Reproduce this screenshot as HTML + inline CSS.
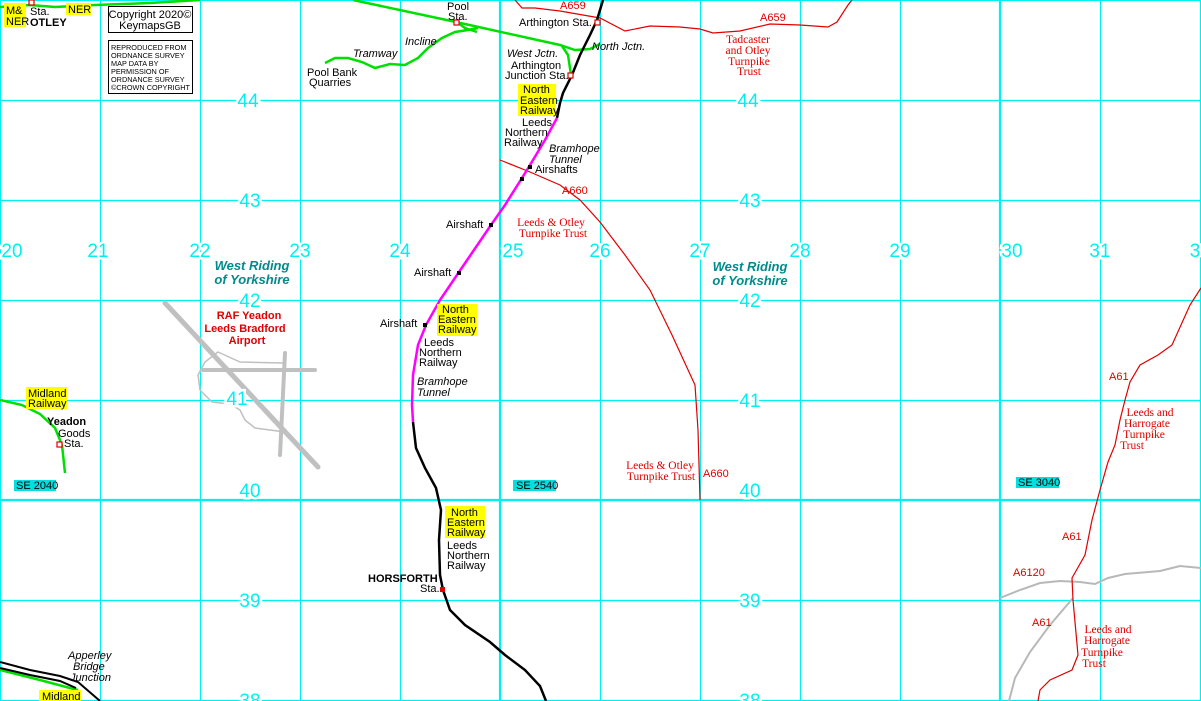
<!DOCTYPE html>
<html><head><meta charset="utf-8"><style>
html,body{margin:0;padding:0;background:#fff;width:1201px;height:701px;overflow:hidden}
svg{display:block}
.g{font-family:"Liberation Sans",sans-serif;fill:#00f0f0;font-size:19px;text-anchor:middle;stroke:#fff;stroke-width:5;paint-order:stroke}
.k{font-family:"Liberation Sans",sans-serif;font-size:11px;fill:#000}
.i{font-family:"Liberation Sans",sans-serif;font-size:11px;font-style:italic;fill:#000}
.r{font-family:"Liberation Sans",sans-serif;font-size:11px;fill:#e00000}
.s{font-family:"Liberation Serif",serif !important;font-size:11.5px;fill:#e00000;text-anchor:middle}
.t{font-family:"Liberation Sans",sans-serif;fill:#008b8b;font-size:13px;font-weight:bold;font-style:italic;text-anchor:middle}
.b{font-family:"Liberation Sans",sans-serif;}
</style></head><body>
<svg width="1201" height="701" viewBox="0 0 1201 701" xmlns="http://www.w3.org/2000/svg">
<g stroke="#00f0f0" stroke-width="1.2">
<line x1="100.5" y1="0" x2="100.5" y2="701"/><line x1="200.5" y1="0" x2="200.5" y2="701"/><line x1="300.5" y1="0" x2="300.5" y2="701"/><line x1="400.5" y1="0" x2="400.5" y2="701"/>
<line x1="600.5" y1="0" x2="600.5" y2="701"/><line x1="700.5" y1="0" x2="700.5" y2="701"/><line x1="800.5" y1="0" x2="800.5" y2="701"/><line x1="900.5" y1="0" x2="900.5" y2="701"/>
<line x1="1100.5" y1="0" x2="1100.5" y2="701"/><line x1="1200.5" y1="0" x2="1200.5" y2="701"/>
<line x1="0" y1="0.5" x2="1201" y2="0.5"/><line x1="0" y1="100.5" x2="1201" y2="100.5"/><line x1="0" y1="200.5" x2="1201" y2="200.5"/><line x1="0" y1="300.5" x2="1201" y2="300.5"/><line x1="0" y1="400.5" x2="1201" y2="400.5"/><line x1="0" y1="600.5" x2="1201" y2="600.5"/><line x1="0" y1="700.5" x2="1201" y2="700.5"/>
<line x1="0.5" y1="0" x2="0.5" y2="701"/>
</g>
<g stroke="#00f0f0" stroke-width="2.2">
<line x1="500" y1="0" x2="500" y2="701"/><line x1="1000" y1="0" x2="1000" y2="701"/><line x1="0" y1="500" x2="1201" y2="500"/>
</g>
<g stroke="#c0c0c0" fill="none" stroke-linecap="round">
<line x1="165" y1="303" x2="318" y2="467" stroke-width="5"/>
<line x1="203" y1="370" x2="315" y2="370" stroke-width="4"/>
<line x1="285" y1="353" x2="280" y2="455" stroke-width="4"/>
<path d="M218,352 L240,362 L283,363 M218,352 L205,362 L198,375 L200,390 L212,402 L230,404 L240,410 L245,420 L255,428 L285,432" stroke-width="1.5"/>
</g>
<g stroke="#b8b8b8" fill="none" stroke-width="2">
<path d="M1000,598 L1020,590 L1040,583 L1060,581 L1080,582 L1095,584 L1108,578 L1125,574 L1160,571 L1180,566 L1201,568"/>
<path d="M1073,598 L1050,625 L1030,652 L1015,678 L1009,701"/>
</g>
<g stroke="#e00000" fill="none" stroke-width="1.2">
<path d="M515,0 L522,8 L535,8 L560,11 L600,18 L625,31 L650,26 L680,27 L700,29 L713,33 L740,31 L770,24 L800,25 L828,27 L837,22 L848,5 L852,0"/>
<path d="M500,160 L530,172 L560,185 L580,200 L600,222 L625,255 L650,290 L672,335 L695,385 L698,430 L700,500"/>
<path d="M1201,288 L1190,305 L1172,345 L1158,355 L1140,365 L1130,382 L1125,400 L1120,420 L1115,445 L1108,462 L1100,490 L1092,520 L1085,555 L1072,578 L1073,600 L1078,655 L1072,670 L1050,680 L1040,690 L1038,701"/>
</g>
<g stroke="#00e000" fill="none" stroke-width="2.5">
<path d="M0,7 L30,5 L55,7 L95,5 L150,3 L200,0"/>
<path d="M353,0 L456,22 L560,45 L575,50 L590,49 L600,44"/>
<path d="M562,46 L568,55 L571,75"/>
<path d="M325,63 L335,58 L348,58 L362,62 L375,68 L390,64 L405,65 L418,58 L428,48 L442,38 L455,32 L468,30 L478,28 M458,23 L465,28 L477,32"/>
<path d="M0,400 L22,405 L40,414 L55,428 L62,445 L65,473"/>
<path d="M0,670 L40,680 L70,688 L78,690"/>
</g>
<g stroke="#000" fill="none" stroke-width="2.5">
<path d="M603,0 L597,20 L590,35 L580,55 L572,75 L563,93 L560,103 L557,118"/>
<path d="M413,422 L416,448 L425,468 L436,488 L441,510 L439,540 L440,575 L443,590 L450,610 L465,625 L490,642 L505,655 L525,670 L540,686 L546,701"/>
<path d="M0,662 L30,670 L60,676 L78,682 L100,701" stroke-width="2"/>
<path d="M0,668 L30,675 L60,681 L76,688" stroke-width="2"/>
</g>
<path d="M557,118 L545,140 L530,165 L522,178 L505,205 L491,225 L459,272 L440,300 L426,325 L418,345 L413,375 L412,405 L413,422" stroke="#ff00ff" stroke-width="2.5" fill="none"/>
<g fill="#fff" stroke="#e00000" stroke-width="1.2">
<rect x="29" y="0" width="5" height="5"/><rect x="454" y="20" width="5" height="5"/><rect x="595" y="20" width="5" height="5"/><rect x="568" y="73" width="5" height="5"/><rect x="57" y="442" width="5" height="5"/>
</g>
<rect x="440" y="587" width="5" height="5" fill="#e00000"/>
<g fill="#000"><rect x="528" y="165" width="4" height="4"/><rect x="520" y="177" width="4" height="4"/><rect x="489" y="223" width="4" height="4"/><rect x="457" y="271" width="4" height="4"/><rect x="423" y="323" width="4" height="4"/></g>
<g fill="#ffff00">
<rect x="4" y="3" width="22" height="24"/><rect x="66" y="3" width="25" height="12"/>
<rect x="518" y="84" width="38" height="32"/><rect x="437" y="304" width="40" height="32"/><rect x="445" y="506" width="40" height="32"/>
<rect x="26" y="387" width="41" height="22"/><rect x="39" y="690" width="42" height="11"/>
</g>
<g fill="#00e0e0"><rect x="14" y="480" width="42" height="11"/><rect x="513" y="480" width="43" height="11"/><rect x="1016" y="477" width="43" height="11"/></g>
<rect x="108.5" y="6.5" width="84" height="26" fill="#fff" stroke="#000"/>
<rect x="108.5" y="40.5" width="84" height="53" fill="#fff" stroke="#000"/>
<text x="150" y="18" class="k" text-anchor="middle">Copyright 2020©</text>
<text x="150" y="29" class="k" text-anchor="middle">KeymapsGB</text>
<g class="b" font-size="7.3" fill="#000"><text x="111" y="50">REPRODUCED FROM</text><text x="111" y="58">ORDNANCE SURVEY</text><text x="111" y="66">MAP DATA BY</text><text x="111" y="74">PERMISSION OF</text><text x="111" y="82">ORDNANCE SURVEY</text><text x="111" y="90" textLength="79">©CROWN COPYRIGHT</text></g>
<g class="g">
<text x="248" y="107">44</text><text x="748" y="107">44</text>
<text x="250" y="207">43</text><text x="750" y="207">43</text>
<text x="250" y="307">42</text><text x="750" y="307">42</text>
<text x="237" y="405">41</text><text x="750" y="407">41</text>
<text x="250" y="497">40</text><text x="750" y="497">40</text>
<text x="250" y="607">39</text><text x="750" y="607">39</text>
<text x="250" y="707">38</text><text x="750" y="707">38</text>
<text x="12" y="257">20</text><text x="98" y="257">21</text><text x="200" y="257">22</text><text x="300" y="257">23</text><text x="400" y="257">24</text><text x="513" y="257">25</text><text x="600" y="257">26</text><text x="700" y="257">27</text><text x="800" y="257">28</text><text x="900" y="257">29</text><text x="1012" y="257">30</text><text x="1100" y="257">31</text><text x="1195" y="257">3</text>
</g>
<text x="252" y="270" class="t">West Riding</text><text x="252" y="284" class="t">of Yorkshire</text>
<text x="750" y="271" class="t">West Riding</text><text x="750" y="285" class="t">of Yorkshire</text>
<g class="b" fill="#e00000" font-size="11" font-weight="bold" text-anchor="middle"><text x="249" y="319">RAF Yeadon</text><text x="245" y="332">Leeds Bradford</text><text x="247" y="344">Airport</text></g>
<g class="k">
<text x="6" y="14">M&amp;</text><text x="6" y="25">NER</text><text x="30" y="15">Sta.</text><text x="68" y="13">NER</text>
<text x="30" y="26" font-weight="bold">OTLEY</text>
<text x="447" y="10">Pool</text><text x="448" y="20">Sta.</text>
<text x="519" y="26">Arthington Sta.</text>
<text x="511" y="69">Arthington</text><text x="505" y="79">Junction Sta.</text>
<text x="307" y="76">Pool Bank</text><text x="309" y="86">Quarries</text>
<text x="523" y="93">North</text><text x="520" y="104">Eastern</text><text x="520" y="114">Railway</text>
<text x="522" y="126">Leeds</text><text x="505" y="136">Northern</text><text x="504" y="146">Railway</text>
<text x="535" y="173">Airshafts</text>
<text x="446" y="228">Airshaft</text><text x="414" y="276">Airshaft</text><text x="380" y="327">Airshaft</text>
<text x="442" y="313">North</text><text x="438" y="323">Eastern</text><text x="438" y="333">Railway</text>
<text x="424" y="346">Leeds</text><text x="419" y="356">Northern</text><text x="419" y="366">Railway</text>
<text x="451" y="516">North</text><text x="447" y="526">Eastern</text><text x="447" y="536">Railway</text>
<text x="447" y="549">Leeds</text><text x="447" y="559">Northern</text><text x="447" y="569">Railway</text>
<text x="368" y="582" font-weight="bold">HORSFORTH</text><text x="420" y="592">Sta.</text>
<text x="28" y="397">Midland</text><text x="28" y="407">Railway</text>
<text x="47" y="425" font-weight="bold">Yeadon</text><text x="58" y="437">Goods</text><text x="64" y="447">Sta.</text>
<text x="16" y="489">SE 2040</text><text x="516" y="489">SE 2540</text><text x="1018" y="486">SE 3040</text>
<text x="42" y="700">Midland</text>
</g>
<g class="i">
<text x="353" y="57">Tramway</text><text x="405" y="45">Incline</text>
<text x="507" y="57">West Jctn.</text><text x="592" y="50">North Jctn.</text>
<text x="549" y="152">Bramhope</text><text x="549" y="163">Tunnel</text>
<text x="417" y="385">Bramhope</text><text x="417" y="396">Tunnel</text>
<text x="68" y="659">Apperley</text><text x="73" y="670">Bridge</text><text x="70" y="681">Junction</text>
</g>
<g class="r">
<text x="560" y="9">A659</text><text x="760" y="21">A659</text><text x="562" y="194">A660</text><text x="703" y="477">A660</text>
<text x="1109" y="380">A61</text><text x="1062" y="540">A61</text><text x="1013" y="576">A6120</text><text x="1032" y="626">A61</text>
</g>
<g class="s">
<text x="748" y="43">Tadcaster</text><text x="748" y="54">and Otley</text><text x="749" y="65">Turnpike</text><text x="749" y="75">Trust</text>
<text x="551" y="226">Leeds &amp; Otley</text><text x="553" y="237">Turnpike Trust</text>
<text x="660" y="469">Leeds &amp; Otley</text><text x="661" y="480">Turnpike Trust</text>
<text x="1150" y="416">Leeds and</text><text x="1147" y="427">Harrogate</text><text x="1144" y="438">Turnpike</text><text x="1132" y="449">Trust</text>
<text x="1108" y="633">Leeds and</text><text x="1107" y="644">Harrogate</text><text x="1102" y="656">Turnpike</text><text x="1094" y="667">Trust</text>
</g>
</svg>
</body></html>
